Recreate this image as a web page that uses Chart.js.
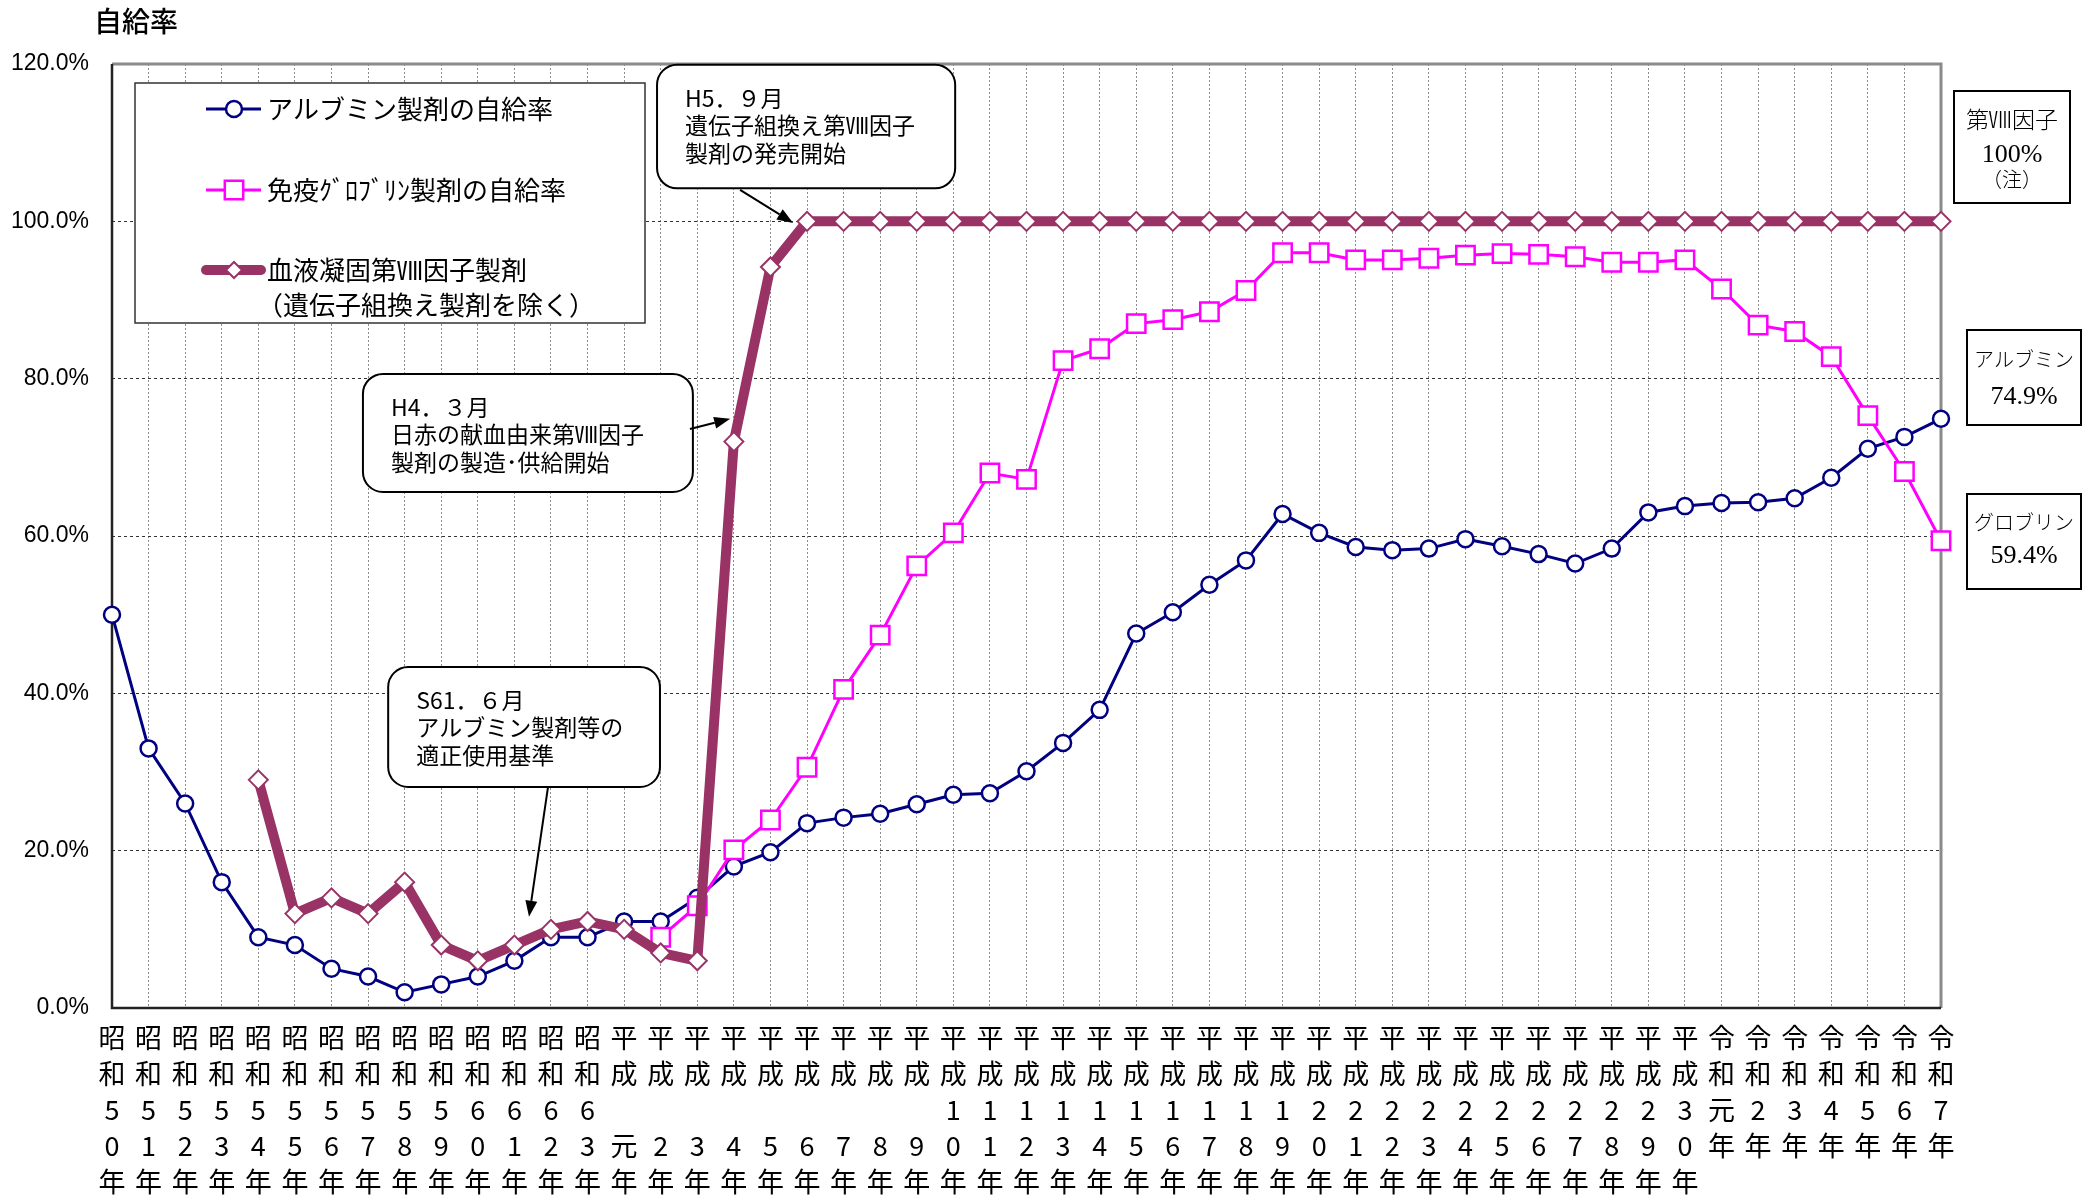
<!DOCTYPE html>
<html><head><meta charset="utf-8">
<script src="https://cdn.jsdelivr.net/npm/chart.js@4/dist/chart.umd.min.js"></script>
<style>html,body{margin:0;padding:0;background:#fff;}</style>
</head><body>
<canvas id="c" width="2089" height="1196"></canvas>
<script>
// ---- data ----
const categories = [
 '昭和50年','昭和51年','昭和52年','昭和53年','昭和54年','昭和55年','昭和56年','昭和57年','昭和58年','昭和59年',
 '昭和60年','昭和61年','昭和62年','昭和63年',
 '平成元年','平成2年','平成3年','平成4年','平成5年','平成6年','平成7年','平成8年','平成9年','平成10年',
 '平成11年','平成12年','平成13年','平成14年','平成15年','平成16年','平成17年','平成18年','平成19年','平成20年',
 '平成21年','平成22年','平成23年','平成24年','平成25年','平成26年','平成27年','平成28年','平成29年','平成30年',
 '令和元年','令和2年','令和3年','令和4年','令和5年','令和6年','令和7年'
];
const albumin = [
 50.0, 33.0, 26.0, 16.0, 9.0, 8.0, 5.0, 4.0, 2.0, 3.0,
 4.0, 6.0, 9.0, 9.0,
 11.0, 11.0, 14.0, 18.0, 19.8, 23.5, 24.2, 24.7, 25.9, 27.1,
 27.3, 30.1, 33.7, 37.9, 47.6, 50.3, 53.8, 56.9, 62.8, 60.4,
 58.6, 58.2, 58.4, 59.6, 58.7, 57.7, 56.5, 58.4, 63.0, 63.8,
 64.2, 64.3, 64.8, 67.4, 71.1, 72.6, 74.9
];
const globulin = [
 null, null, null, null, null, null, null, null, null, null,
 null, null, null, null,
 null, 9.0, 13.0, 20.1, 23.9, 30.6, 40.5, 47.4, 56.2, 60.4,
 68.0, 67.2, 82.3, 83.8, 87.0, 87.5, 88.5, 91.2, 96.0, 96.0,
 95.1, 95.1, 95.3, 95.7, 95.9, 95.8, 95.5, 94.8, 94.8, 95.1,
 91.4, 86.8, 86.0, 82.8, 75.3, 68.2, 59.4
];
const factor8 = [
 null, null, null, null, 29.0, 12.0, 14.0, 12.0, 16.0, 8.0,
 6.0, 8.0, 10.0, 11.0,
 10.0, 7.0, 6.0, 72.0, 94.2, 100, 100, 100, 100, 100,
 100, 100, 100, 100, 100, 100, 100, 100, 100, 100,
 100, 100, 100, 100, 100, 100, 100, 100, 100, 100,
 100, 100, 100, 100, 100, 100, 100
];
const yTickValues = [0, 20, 40, 60, 80, 100, 120];
const seriesNames = ['アルブミン製剤の自給率', '免疫ｸﾞﾛﾌﾞﾘﾝ製剤の自給率', ['血液凝固第Ⅷ因子製剤', '（遺伝子組換え製剤を除く）']];
const yTitle = '自給率';
const sideNames = ['第Ⅷ因子', 'アルブミン', 'グロブリン'];
const sideNote = '（注）';

// callouts: box [x0, yTop, x1, yBottom] and arrow [x, y, x, y] in data units (category index, %)
const callouts = [
 {lines: ['H5．９月', '遺伝子組換え第Ⅷ因子', '製剤の発売開始'], box: [14.9, 119.9, 23.05, 104.2], arrow: [17.17, 104.0, 18.62, 99.8]},
 {lines: ['H4．３月', '日赤の献血由来第Ⅷ因子', '製剤の製造･供給開始'], box: [6.86, 80.6, 15.88, 65.6], arrow: [15.8, 73.6, 16.9, 74.9]},
 {lines: ['S61．６月', 'アルブミン製剤等の', '適正使用基準'], box: [7.55, 43.35, 14.98, 28.1], arrow: [11.92, 28.1, 11.4, 11.6]}
];

// tick label lines (vertical text)
function splitLabel(s) {
  const ch = Array.from(s);
  if (ch[0] === '平' && ch.length === 4) ch.splice(2, 0, '');
  return ch;
}
const tickLabels = categories.map(splitLabel);

const CJK = "'Noto Sans CJK JP', sans-serif";
const COL_ALB = '#000080', COL_GLO = '#FF00FF', COL_F8 = '#993366';

function rr(ctx, x, y, w, h, r) {
  ctx.beginPath();
  ctx.moveTo(x + r, y);
  ctx.lineTo(x + w - r, y); ctx.arcTo(x + w, y, x + w, y + r, r);
  ctx.lineTo(x + w, y + h - r); ctx.arcTo(x + w, y + h, x + w - r, y + h, r);
  ctx.lineTo(x + r, y + h); ctx.arcTo(x, y + h, x, y + h - r, r);
  ctx.lineTo(x, y + r); ctx.arcTo(x, y, x + r, y, r);
  ctx.closePath();
}
function arrow(ctx, x1, y1, x2, y2) {
  const a = Math.atan2(y2 - y1, x2 - x1), L = 16, W = 6;
  const bx = x2 - L * Math.cos(a), by = y2 - L * Math.sin(a);
  ctx.beginPath(); ctx.moveTo(x1, y1); ctx.lineTo(bx, by);
  ctx.lineWidth = 2; ctx.strokeStyle = '#000'; ctx.stroke();
  ctx.beginPath(); ctx.moveTo(x2, y2);
  ctx.lineTo(bx + W * Math.sin(a), by - W * Math.cos(a));
  ctx.lineTo(bx - W * Math.sin(a), by + W * Math.cos(a));
  ctx.closePath(); ctx.fillStyle = '#000'; ctx.fill();
}

const framePlugin = {
  id: 'frame',
  beforeDatasetsDraw(chart) {
    const {ctx, chartArea: a} = chart;
    ctx.save();
    ctx.strokeStyle = '#8a8a8a'; ctx.lineWidth = 3;
    ctx.beginPath(); ctx.moveTo(a.left, a.top); ctx.lineTo(a.right, a.top); ctx.lineTo(a.right, a.bottom); ctx.stroke();
    ctx.strokeStyle = '#222'; ctx.lineWidth = 2.5;
    ctx.beginPath(); ctx.moveTo(a.left, a.top); ctx.lineTo(a.left, a.bottom); ctx.lineTo(a.right, a.bottom); ctx.stroke();
    ctx.restore();
  },
  afterDraw(chart) {
    const {ctx} = chart;
    ctx.save();
    ctx.fillStyle = '#000'; ctx.font = '500 28px ' + CJK; ctx.textBaseline = 'middle'; ctx.textAlign = 'left';
    ctx.fillText(yTitle, 94, 21);
    ctx.restore();
  }
};

const legendPlugin = {
  id: 'customLegend',
  afterDatasetsDraw(chart) {
    const {ctx, chartArea: a} = chart;
    const L = a.left + 23, T = a.top + 19, W = 510, H = 240;
    ctx.save();
    ctx.fillStyle = '#fff'; ctx.fillRect(L, T, W, H);
    ctx.strokeStyle = '#333'; ctx.lineWidth = 1.5; ctx.strokeRect(L, T, W, H);
    const rows = [26, 107, 187];
    chart.data.datasets.forEach((ds, i) => {
      const y = T + rows[i];
      ctx.save();
      ctx.beginPath(); ctx.moveTo(L + 71, y); ctx.lineTo(L + 126, y);
      ctx.strokeStyle = ds.borderColor; ctx.lineWidth = ds.borderWidth; ctx.lineCap = i === 2 ? 'round' : 'butt';
      ctx.stroke();
      ctx.restore();
      ctx.save();
      ctx.fillStyle = ds.pointBackgroundColor; ctx.strokeStyle = ds.pointBorderColor; ctx.lineWidth = ds.pointBorderWidth;
      Chart.helpers.drawPoint(ctx, {pointStyle: ds.pointStyle, radius: ds.pointRadius * (i === 2 ? 0.85 : 1), borderWidth: ds.pointBorderWidth, rotation: 0}, L + 99, y);
      ctx.restore();
      ctx.fillStyle = '#000'; ctx.font = '26px ' + CJK; ctx.textBaseline = 'middle'; ctx.textAlign = 'left';
      const name = seriesNames[i];
      if (Array.isArray(name)) {
        name.forEach((t, k) => ctx.fillText(t, L + 132 - (t.startsWith('（') ? 10 : 0), y + k * 35));
      } else ctx.fillText(name, L + 132, y);
    });
    ctx.restore();
  }
};

const calloutPlugin = {
  id: 'callouts',
  afterDatasetsDraw(chart) {
    const {ctx} = chart; const xs = chart.scales.x, ys = chart.scales.y;
    ctx.save();
    callouts.forEach(c => {
      const x0 = xs.getPixelForValue(c.box[0]), y0 = ys.getPixelForValue(c.box[1]);
      const x1 = xs.getPixelForValue(c.box[2]), y1 = ys.getPixelForValue(c.box[3]);
      rr(ctx, x0, y0, x1 - x0, y1 - y0, 20);
      ctx.fillStyle = '#fff'; ctx.fill();
      ctx.strokeStyle = '#000'; ctx.lineWidth = 2; ctx.stroke();
      ctx.fillStyle = '#000'; ctx.font = '23px ' + CJK; ctx.textBaseline = 'middle'; ctx.textAlign = 'left';
      c.lines.forEach((t, k) => ctx.fillText(t, x0 + 28, y0 + 33 + k * 27.5));
      arrow(ctx, xs.getPixelForValue(c.arrow[0]), ys.getPixelForValue(c.arrow[1]),
                 xs.getPixelForValue(c.arrow[2]), ys.getPixelForValue(c.arrow[3]));
    });
    ctx.restore();
  }
};

const sideBoxPlugin = {
  id: 'sideBoxes',
  afterDraw(chart) {
    const {ctx, chartArea: a} = chart;
    const last = categories.length - 1;
    const boxes = [
      {x: a.right + 13, y: 91, w: 116, h: 112, cx: a.right + 71,
       lines: [[sideNames[0], 23, 122], [factor8[last] + '%', 26, 155], [sideNote, 20, 182]]},
      {x: a.right + 26, y: 330, w: 114, h: 95, cx: a.right + 83,
       lines: [[sideNames[1], 20, 362], [albumin[last].toFixed(1) + '%', 26, 397]]},
      {x: a.right + 26, y: 494, w: 114, h: 95, cx: a.right + 83,
       lines: [[sideNames[2], 20, 525], [globulin[last].toFixed(1) + '%', 26, 556]]}
    ];
    ctx.save();
    boxes.forEach(b => {
      ctx.fillStyle = '#fff'; ctx.fillRect(b.x, b.y, b.w, b.h);
      ctx.strokeStyle = '#000'; ctx.lineWidth = 2; ctx.strokeRect(b.x, b.y, b.w, b.h);
      ctx.fillStyle = '#000'; ctx.textAlign = 'center'; ctx.textBaseline = 'middle';
      b.lines.forEach(([t, fs, y]) => {
        ctx.font = '300 ' + fs + "px 'Liberation Serif', 'Noto Sans CJK JP', serif";
        ctx.fillText(t, b.cx, y);
      });
    });
    ctx.restore();
  }
};

new Chart(document.getElementById('c'), {
  type: 'line',
  data: {
    labels: tickLabels,
    datasets: [
      {label: 'albumin', data: albumin, borderColor: COL_ALB, borderWidth: 3, pointStyle: 'circle', pointRadius: 8,
       pointBorderWidth: 2.5, pointBorderColor: COL_ALB, pointBackgroundColor: '#fff', order: 2, tension: 0},
      {label: 'globulin', data: globulin, borderColor: COL_GLO, borderWidth: 3, pointStyle: 'rect', pointRadius: 13,
       pointBorderWidth: 2.5, pointBorderColor: COL_GLO, pointBackgroundColor: '#fff', order: 1, tension: 0},
      {label: 'factor8', data: factor8, borderColor: COL_F8, borderWidth: 10, pointStyle: 'rectRot', pointRadius: 9.5,
       pointBorderWidth: 2, pointBorderColor: COL_F8, pointBackgroundColor: '#fff', order: 0, tension: 0,
       borderJoinStyle: 'round'}
    ]
  },
  options: {
    responsive: false, animation: false, devicePixelRatio: 1,
    layout: {padding: {top: 64, right: 148, left: 0, bottom: 0}},
    plugins: {legend: {display: false}, tooltip: {enabled: false}, title: {display: false}},
    scales: {
      x: {
        offset: false,
        grid: {color: '#8c8c8c', lineWidth: 1, drawTicks: false},
        border: {display: false, dash: [2, 2]},
        ticks: {autoSkip: false, maxRotation: 0, minRotation: 0, padding: 12, color: '#000',
                font: {family: CJK, size: 27, lineHeight: 1.333}},
        afterFit: s => { s.height = 188; }
      },
      y: {
        min: 0, max: 120,
        afterBuildTicks: s => { s.ticks = yTickValues.map(v => ({value: v})); },
        grid: {color: '#333', lineWidth: 1, drawTicks: false},
        border: {display: false, dash: [3, 3]},
        ticks: {padding: 23, color: '#000', font: {family: "'Liberation Sans', Arial, sans-serif", size: 23},
                callback: v => v.toFixed(1) + '%'},
        afterFit: s => { s.width = 112; }
      }
    }
  },
  plugins: [framePlugin, legendPlugin, calloutPlugin, sideBoxPlugin]
});
</script>
</body></html>
